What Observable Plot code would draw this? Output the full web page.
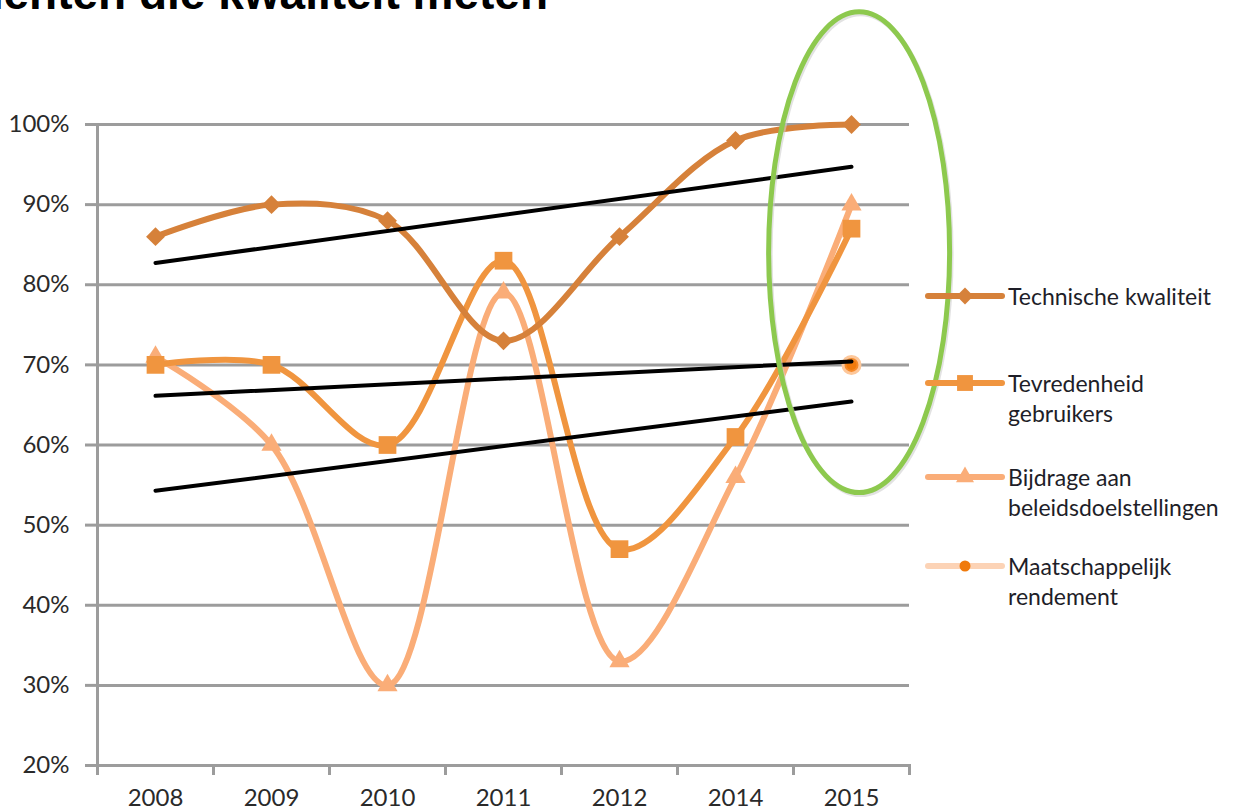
<!DOCTYPE html>
<html>
<head>
<meta charset="utf-8">
<script src="https://cdn.jsdelivr.net/npm/d3@7"></script>
<script src="https://cdn.jsdelivr.net/npm/@observablehq/plot@0.6"></script>
<style>
  html, body { margin: 0; padding: 0; background: #fff; overflow: hidden; }
  #wrap { position: relative; width: 1238px; height: 811px; overflow: hidden; }
  #title { position: absolute; right: 690px; top: -30px; font: bold 46px "Liberation Sans", Arial, sans-serif;
           line-height: 46px; white-space: nowrap; color: #000; }
  #chart { position: absolute; left: 0; top: 0; }
  .lg-row { position: absolute; left: 924px; display: flex; align-items: flex-start; }
  .lg-row svg { flex: none; }
  .lg-text { width: 232px; font-family: Lato, "Open Sans", sans-serif; font-size: 23px; line-height: 30px; color: #1e1e28; margin-left: 2px; }
</style>
</head>
<body>
<div id="wrap">
  <div id="title">Instrumenten die kwaliteit meten</div>
  <div id="chart"></div>
  <div id="legend"></div>
</div>
<script>
// ---- data ----
const years = ["2008", "2009", "2010", "2011", "2012", "2014", "2015"];
const seriesNames = ["Technische kwaliteit", "Tevredenheid gebruikers", "Bijdrage aan beleidsdoelstellingen", "Maatschappelijk rendement"];
const technische = [86, 90, 88, 73, 86, 98, 100];
const tevredenheid = [70, 70, 60, 83, 47, 61, 87];
const bijdrage = [71, 60, 30, 79, 33, 56, 90];
const maatschappelijk = [null, null, null, null, null, null, 70];
const yTicks = [20, 30, 40, 50, 60, 70, 80, 90, 100];
// green highlight ellipse around 2015 (in data units: year index, percent)
const highlightX = [6.07];
const highlightY = [84];
const highlightHalfWidth = [0.78];
const highlightHalfHeight = [30];

// ---- styling ----
const seriesColors = ["#D6813A", "#F0953F", "#FAAD78", "#FCD3B6"];
const symbols = ["diamond2", "square", "triangle", "circle"];
const symbolR = [8.5, 10, 7.5, 6];
const gridColor = "#9c9c9c";

const allValues = [technische, tevredenheid, bijdrage, maatschappelijk];
const rows = allValues.flatMap((vals, s) =>
  vals.map((v, i) => ({i, year: years[i], value: v, series: seriesNames[s]})).filter(d => d.value != null));
const bySeries = s => rows.filter(d => d.series === seriesNames[s]);
const boundaries = years.map((_, i) => i - 0.5).concat([years.length - 0.5]);

function ellipseMark(index, scales) {
  const g = d3.create("svg:g");
  highlightX.forEach((hx, k) => {
    const cx = scales.x(hx), cy = scales.y(highlightY[k]);
    const rx = Math.abs(scales.x(hx + highlightHalfWidth[k]) - cx);
    const ry = Math.abs(scales.y(highlightY[k] + highlightHalfHeight[k]) - cy);
    g.append("ellipse").attr("cx", cx + 1.5).attr("cy", cy + 2).attr("rx", rx).attr("ry", ry)
      .attr("fill", "none").attr("stroke", "#cfcfcf").attr("stroke-opacity", 0.6).attr("stroke-width", 5);
    g.append("ellipse").attr("cx", cx).attr("cy", cy).attr("rx", rx).attr("ry", ry)
      .attr("fill", "none").attr("stroke", "#8DC94E").attr("stroke-width", 5);
  });
  return g.node();
}

const seriesMarks = [];
[2, 1, 0].forEach(s => {
  seriesMarks.push(Plot.line(bySeries(s), {x: "i", y: "value", stroke: seriesColors[s], strokeWidth: 6, curve: "catmull-rom"}));
  seriesMarks.push(Plot.dot(bySeries(s), {x: "i", y: "value", symbol: symbols[s], r: symbolR[s], fill: seriesColors[s], stroke: "none"}));
});
// Maatschappelijk rendement: single point with soft halo
seriesMarks.push(Plot.dot(bySeries(3), {x: "i", y: "value", r: 10, fill: "#FDC79A", stroke: "none"}));
seriesMarks.push(Plot.dot(bySeries(3), {x: "i", y: "value", r: 7, fill: "#F58A2A", stroke: "none"}));
seriesMarks.push(Plot.dot(bySeries(3), {x: "i", y: "value", r: 5, fill: "#F07A0C", stroke: "none"}));

const plot = Plot.plot({
  width: 1238, height: 811,
  marginLeft: 97, marginRight: 329, marginTop: 124, marginBottom: 46,
  x: {type: "linear", domain: [-0.5, years.length - 0.5], label: null},
  y: {domain: [20, 100], label: null},
  style: {fontFamily: "Lato, 'Open Sans', sans-serif", background: "transparent", color: "#2a2a2a", overflow: "visible"},
  marks: [
    Plot.gridY(yTicks, {stroke: gridColor, strokeOpacity: 1, strokeWidth: 3}),
    Plot.frame({anchor: "left", stroke: gridColor, strokeWidth: 3}),
    Plot.frame({anchor: "bottom", stroke: gridColor, strokeWidth: 3}),
    Plot.axisY(yTicks, {tickSize: 12, tickPadding: 16, tickFormat: d => d + "%", stroke: gridColor, strokeWidth: 3,
                        fill: "#2a2a2a", fontSize: 24, label: null}),
    Plot.axisX(boundaries, {tickSize: 10, stroke: gridColor, strokeWidth: 3, fill: null, label: null}),
    Plot.axisX(years.map((_, i) => i), {tickSize: 0, tickPadding: 23, tickFormat: i => years[i], fill: "#2a2a2a", fontSize: 24, label: null}),
    ...seriesMarks,
    Plot.linearRegressionY(rows.filter(d => d.series !== seriesNames[3]),
      {x: "i", y: "value", z: "series", stroke: "#000", strokeWidth: 4, ci: 0}),
    ellipseMark
  ]
});
document.getElementById("chart").appendChild(plot);

// ---- legend (right side) ----
const legendTops = [281, 368, 462, 551];
const legend = document.getElementById("legend");
seriesNames.forEach((name, s) => {
  const row = document.createElement("div");
  row.className = "lg-row";
  row.style.top = legendTops[s] + "px";
  const svg = d3.create("svg").attr("width", 82).attr("height", 30);
  svg.append("line").attr("x1", 4).attr("x2", 78).attr("y1", 15).attr("y2", 15)
    .attr("stroke", seriesColors[s]).attr("stroke-width", 6).attr("stroke-linecap", "round");
  if (s === 3) {
    svg.append("circle").attr("cx", 41).attr("cy", 15).attr("r", 5.5).attr("fill", "#F07A0C");
  } else {
    const sym = {diamond2: d3.symbolDiamond2, square: d3.symbolSquare, triangle: d3.symbolTriangle}[symbols[s]];
    svg.append("path").attr("transform", "translate(41,15)")
      .attr("d", d3.symbol(sym, Math.PI * symbolR[s] * symbolR[s] * 0.8)())
      .attr("fill", seriesColors[s]);
  }
  row.appendChild(svg.node());
  const t = document.createElement("div");
  t.className = "lg-text";
  t.textContent = name;
  row.appendChild(t);
  legend.appendChild(row);
});
</script>
</body>
</html>
